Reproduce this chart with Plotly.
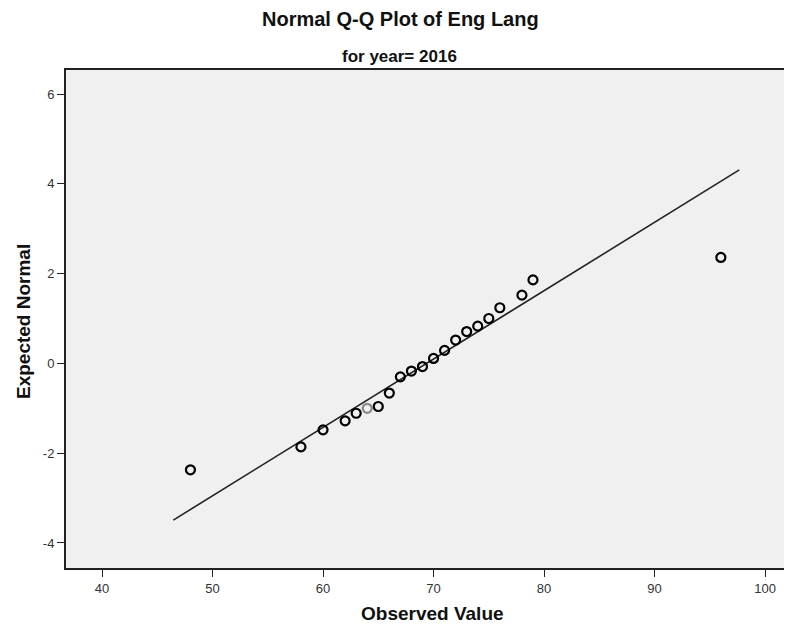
import plotly.graph_objects as go

# Data
observed = [48, 58, 60, 62, 63, 64, 65, 66, 67, 68, 69, 70, 71, 72, 73, 74, 75, 76, 78, 79, 96]
expected = [-2.37, -1.86, -1.48, -1.28, -1.11, -1.00, -0.96, -0.66, -0.30, -0.17, -0.07,
            0.11, 0.29, 0.52, 0.71, 0.83, 1.00, 1.24, 1.52, 1.86, 2.36]
point_colors = ["#000000"] * 5 + ["#8a8a8a"] + ["#000000"] * 15
line_x = [46.45, 97.67]
line_y = [-3.49, 4.31]
x_ticks = [40, 50, 60, 70, 80, 90, 100]
y_ticks = [-4, -2, 0, 2, 4, 6]
y_tick_text = ["-4", "-2", "0", "2", "4", "6"]

FONT = "Liberation Sans, Arial, sans-serif"

# page body has an 8px margin: figure drawn at offset (8, 8)
OFF = 8
L, R, T, B = 66, 792, 70, 568  # plot area in screen pixels
FW, FH = 792 - OFF, 628 - OFF
W, H = R - L, B - T


def px(x):
    return (x - L) / W


def py(y):
    return (B - y) / H


fig = go.Figure()
fig.add_trace(go.Scatter(x=line_x, y=line_y, mode="lines",
                         line=dict(color="#222222", width=1.6), hoverinfo="skip",
                         showlegend=False))
fig.add_trace(go.Scatter(x=observed, y=expected, mode="markers",
                         marker=dict(symbol="circle-open", size=9,
                                     color=point_colors,
                                     line=dict(width=2.2, color=point_colors)),
                         showlegend=False))

fig.update_layout(
    width=FW, height=FH,
    margin=dict(l=L - OFF, r=FW - (R - OFF), t=T - OFF, b=FH - (B - OFF), autoexpand=False),
    paper_bgcolor="white", plot_bgcolor="#f0f0f0",
    font=dict(family=FONT, color="#222222"),
    showlegend=False,
    xaxis=dict(range=[36.74, 102.44], tickvals=x_ticks, ticks="outside", ticklen=7,
               tickcolor="#222222", tickwidth=1.2, showgrid=False, zeroline=False,
               showline=True, linecolor="#222222", linewidth=2, mirror=True,
               automargin=False, tickfont=dict(size=13, color="#333333")),
    yaxis=dict(range=[-4.557, 6.535], tickvals=y_ticks, ticktext=y_tick_text,
               ticks="outside", ticklen=7,
               tickcolor="#222222", tickwidth=1.2, showgrid=False, zeroline=False,
               showline=True, linecolor="#222222", linewidth=2,
               automargin=False, tickfont=dict(size=13, color="#333333")),
)
fig.add_annotation(text="<b>Normal Q-Q Plot of Eng Lang</b>", xref="paper", yref="paper",
                   x=px(400), y=py(19), xanchor="center", yanchor="middle",
                   showarrow=False, font=dict(size=20, color="#111111"))
fig.add_annotation(text="<b>for year= 2016</b>", xref="paper", yref="paper",
                   x=px(399), y=py(57), xanchor="center", yanchor="middle",
                   showarrow=False, font=dict(size=17, color="#111111"))
fig.add_annotation(text="<b>Observed Value</b>", xref="paper", yref="paper",
                   x=px(433), y=py(613), xanchor="center", yanchor="middle",
                   showarrow=False, font=dict(size=19, color="#111111"))
fig.add_annotation(text="<b>Expected Normal</b>", xref="paper", yref="paper",
                   x=px(23), y=py(322), xanchor="center", yanchor="middle",
                   showarrow=False, textangle=-90,
                   font=dict(size=19, color="#111111"))

fig.write_html("out.html")
